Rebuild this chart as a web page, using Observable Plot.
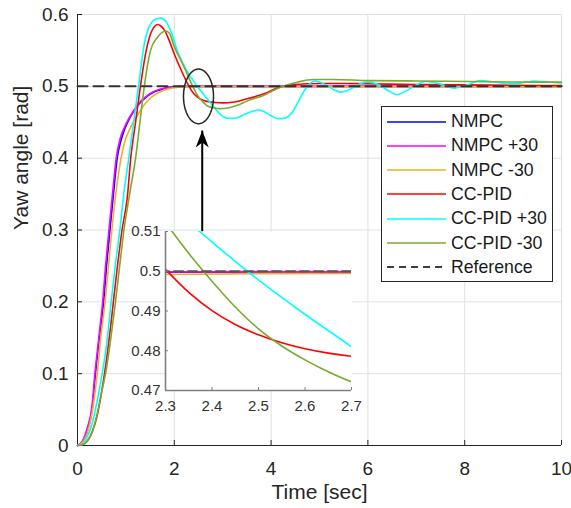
<!DOCTYPE html>
<html><head><meta charset="utf-8">
<script src="https://cdn.jsdelivr.net/npm/d3@7"></script>
<script src="https://cdn.jsdelivr.net/npm/@observablehq/plot@0.6"></script>
<style>
body{margin:0;background:#fff;font-family:"Liberation Sans",Arial,sans-serif;}
#wrap{position:relative;width:571px;height:508px;overflow:hidden;}
#main{position:absolute;left:0;top:0;}
#inset{position:absolute;left:120px;top:229px;}
#legend{position:absolute;left:381px;top:106px;width:172px;height:176px;border:1px solid #262626;background:#fff;box-sizing:border-box;}
.row{position:absolute;left:0;height:24px;display:flex;align-items:center;font-size:17.7px;color:#1a1a1a;}
.row svg{margin-left:5px;margin-right:4px;}
</style></head><body>
<div id="wrap"><div id="main"></div><div id="inset"></div><div id="legend"></div></div>
<script>
// ---- data ----
const xTicks = [0, 2, 4, 6, 8, 10];
const yTicks = [0, 0.1, 0.2, 0.3, 0.4, 0.5, 0.6];
const insetXTicks = [2.3, 2.4, 2.5, 2.6, 2.7];
const insetYTicks = [0.47, 0.48, 0.49, 0.5, 0.51];
const seriesNames = ["NMPC", "NMPC +30", "NMPC -30", "CC-PID", "CC-PID +30", "CC-PID -30"];
const seriesColors = ["#0000ff", "#ff00ff", "#edb120", "#ff0000", "#00ffff", "#77ac30"];
const referenceName = "Reference";

const timeNMPC = [0, 0.1, 0.2, 0.3, 0.37, 0.45, 0.54, 0.6, 0.67, 0.75, 0.82, 0.9, 0.96, 1.05, 1.15, 1.25, 1.4, 1.55, 1.7, 1.85, 2.0, 2.2, 2.5, 3, 10];
const yawNMPC  = [0, 0.005, 0.02, 0.05, 0.1, 0.15, 0.2, 0.25, 0.3, 0.355, 0.4, 0.425, 0.438, 0.452, 0.464, 0.474, 0.484, 0.491, 0.495, 0.498, 0.4993, 0.4997, 0.4998, 0.4998, 0.4998];

const timeNMPCp30 = [0, 0.1, 0.2, 0.3, 0.36, 0.44, 0.52, 0.58, 0.65, 0.73, 0.8, 0.88, 0.95, 1.05, 1.15, 1.25, 1.4, 1.55, 1.7, 1.85, 2.0, 2.2, 2.5, 3, 10];
const yawNMPCp30  = [0, 0.006, 0.024, 0.055, 0.1, 0.15, 0.2, 0.25, 0.3, 0.355, 0.4, 0.427, 0.44, 0.454, 0.465, 0.475, 0.485, 0.492, 0.496, 0.498, 0.4994, 0.4998, 0.4999, 0.4999, 0.4999];

const timeNMPCm30 = [0, 0.1, 0.2, 0.3, 0.4, 0.48, 0.57, 0.64, 0.71, 0.8, 0.9, 0.98, 1.05, 1.15, 1.25, 1.4, 1.55, 1.7, 1.85, 2.0, 2.2, 2.5, 3, 10];
const yawNMPCm30  = [0, 0.004, 0.017, 0.045, 0.095, 0.15, 0.2, 0.25, 0.3, 0.355, 0.4, 0.424, 0.436, 0.45, 0.461, 0.476, 0.486, 0.492, 0.496, 0.498, 0.4991, 0.4994, 0.4995, 0.4995];

const timePID = [0, 0.1, 0.2, 0.3, 0.4, 0.5, 0.6, 0.7, 0.8, 0.92, 1.03, 1.1, 1.2, 1.3, 1.42, 1.52, 1.6, 1.65, 1.72, 1.8, 1.9, 2.0, 2.1, 2.2, 2.3, 2.35, 2.4, 2.45, 2.5, 2.55, 2.6, 2.65, 2.7, 2.85, 3.0, 3.2, 3.5, 3.85, 4.2, 4.5, 5, 5.5, 6, 7, 8, 9, 10];
const yawPID  = [0, 0.001, 0.006, 0.018, 0.04, 0.075, 0.12, 0.175, 0.235, 0.3, 0.346, 0.4, 0.45, 0.5, 0.55, 0.575, 0.584, 0.586, 0.584, 0.578, 0.563, 0.545, 0.529, 0.514, 0.5005, 0.4947, 0.4901, 0.4866, 0.484, 0.482, 0.4805, 0.4794, 0.4786, 0.4775, 0.477, 0.4778, 0.4826, 0.4896, 0.4995, 0.5025, 0.504, 0.504, 0.5035, 0.5025, 0.502, 0.5015, 0.501];

const timePIDp30 = [0, 0.1, 0.2, 0.3, 0.4, 0.51, 0.6, 0.68, 0.78, 0.875, 0.965, 1.06, 1.16, 1.26, 1.38, 1.51, 1.6, 1.72, 1.84, 1.95, 2.07, 2.17, 2.27, 2.373, 2.476, 2.59, 2.7, 2.82, 2.95, 3.1, 3.25, 3.45, 3.6, 3.73, 3.85, 4.0, 4.15, 4.3, 4.45, 4.61, 4.75, 4.9, 5.0, 5.16, 5.3, 5.43, 5.57, 5.71, 5.85, 6.0, 6.2, 6.4, 6.6, 6.8, 7.0, 7.2, 7.45, 7.78, 8.05, 8.33, 8.6, 9.0, 9.2, 9.43, 9.7, 10];
const yawPIDp30  = [0, 0.002, 0.012, 0.03, 0.06, 0.1, 0.14, 0.19, 0.25, 0.3, 0.355, 0.4, 0.45, 0.5, 0.559, 0.587, 0.593, 0.595, 0.589, 0.573, 0.548, 0.533, 0.52, 0.51, 0.5, 0.49, 0.481, 0.471, 0.461, 0.4555, 0.4555, 0.461, 0.465, 0.467, 0.465, 0.459, 0.455, 0.456, 0.465, 0.485, 0.5, 0.5075, 0.506, 0.501, 0.495, 0.492, 0.494, 0.499, 0.504, 0.5058, 0.503, 0.495, 0.4885, 0.494, 0.502, 0.5067, 0.504, 0.4975, 0.502, 0.508, 0.506, 0.5035, 0.505, 0.5075, 0.506, 0.5045];

const timePIDm30 = [0, 0.1, 0.2, 0.31, 0.4, 0.5, 0.58, 0.68, 0.785, 0.88, 0.96, 1.09, 1.2, 1.29, 1.38, 1.51, 1.65, 1.75, 1.82, 1.9, 2.0, 2.1, 2.2, 2.3, 2.35, 2.4, 2.45, 2.5, 2.55, 2.6, 2.65, 2.7, 2.8, 2.95, 3.1, 3.3, 3.5, 3.85, 4.19, 4.54, 4.88, 5.3, 6.0, 7.0, 8.05, 9.0, 10];
const yawPIDm30  = [0, 0.001, 0.006, 0.02, 0.042, 0.075, 0.1, 0.145, 0.2, 0.255, 0.3, 0.355, 0.4, 0.45, 0.5, 0.55, 0.568, 0.575, 0.577, 0.574, 0.555, 0.541, 0.527, 0.5122, 0.5045, 0.4975, 0.491, 0.4855, 0.4812, 0.4777, 0.4747, 0.4722, 0.4702, 0.469, 0.4698, 0.4735, 0.4794, 0.4875, 0.4988, 0.5058, 0.5095, 0.5096, 0.508, 0.5075, 0.5067, 0.506, 0.5058];

const refTime = [0, 10];
const refYaw = [0.5, 0.5];

// annotation (data units): ellipse around the zoomed region, arrow from inset
const ellipseCenter = [2.5, 0.486];
const ellipseRadii = [0.31, 0.038];
const arrowTime = [2.577];
const arrowFrom = [0.298];
const arrowTo = [0.4385];

// ---- build tables ----
const seriesTimes = [timeNMPC, timeNMPCp30, timeNMPCm30, timePID, timePIDp30, timePIDm30];
const seriesYaws = [yawNMPC, yawNMPCp30, yawNMPCm30, yawPID, yawPIDp30, yawPIDm30];
const rows = [];
seriesNames.forEach((name, i) => seriesTimes[i].forEach((t, j) => rows.push({series: name, t, v: seriesYaws[i][j]})));
const refRows = refTime.map((t, i) => ({t, v: refYaw[i]}));
const ellipsePts = d3.range(0, 361, 4).map(a => ({
  t: ellipseCenter[0] + ellipseRadii[0] * Math.cos(a * Math.PI / 180),
  v: ellipseCenter[1] + ellipseRadii[1] * Math.sin(a * Math.PI / 180)
}));
const arrowRows = arrowTime.map((t, i) => ({t, from: arrowFrom[i], to: arrowTo[i]}));
const arrowHead = {draw(ctx) { ctx.moveTo(0, 0); ctx.lineTo(6.5, 17); ctx.lineTo(0, 12); ctx.lineTo(-6.5, 17); ctx.closePath(); }};

const font = "'Liberation Sans', Arial, Helvetica, sans-serif";
const W = 571, H = 508, mL = 77, mR = 10, mT = 14, mB = 63;
const fw = W - mL - mR, fh = H - mT - mB;
const axisColor = "#262626", gridColor = "#e0e0e0";

const main = Plot.plot({
  width: W, height: H, marginLeft: mL, marginRight: mR, marginTop: mT, marginBottom: mB,
  style: {fontFamily: font, fontSize: "19px", color: axisColor, background: "transparent", overflow: "visible"},
  x: {domain: [0, 10]},
  y: {domain: [0, 0.6]},
  color: {domain: seriesNames, range: seriesColors},
  marks: [
    Plot.gridX(xTicks.filter(d => d > 0), {stroke: gridColor, strokeOpacity: 1}),
    Plot.gridY(yTicks.filter(d => d > 0), {stroke: gridColor, strokeOpacity: 1}),
    Plot.ruleX([0], {stroke: axisColor}),
    Plot.ruleY([0], {stroke: axisColor}),
    Plot.tickX(xTicks, {x: d => d, stroke: axisColor, insetTop: fh - 5}),
    Plot.tickY(yTicks, {y: d => d, stroke: axisColor, insetRight: fw - 5}),
    Plot.axisX(xTicks, {tickSize: 0, tickPadding: 16, tickFormat: d => String(d), label: null}),
    Plot.axisY(yTicks, {tickSize: 0, tickPadding: 9, tickFormat: d => String(d), label: null}),
    Plot.text(["Time [sec]"], {frameAnchor: "bottom", dy: 53, fontSize: 21, fill: axisColor}),
    Plot.text(["Yaw angle [rad]"], {frameAnchor: "left", dx: -56, rotate: -90, fontSize: 21, fill: axisColor}),
    Plot.line(rows, {x: "t", y: "v", z: "series", stroke: "series", strokeWidth: 1.6, curve: "monotone-x"}),
    Plot.line(refRows, {x: "t", y: "v", stroke: "#333333", strokeWidth: 2, strokeDasharray: "10,6"}),
    Plot.line(ellipsePts, {x: "t", y: "v", stroke: "#262626", strokeWidth: 1.5}),
    Plot.link(arrowRows, {x1: "t", x2: "t", y1: "from", y2: "to", stroke: "#000", strokeWidth: 2}),
    Plot.dot(arrowRows, {x: "t", y: "to", symbol: arrowHead, fill: "#000", stroke: "none", r: 6})
  ]
});
document.getElementById("main").append(main);

// ---- inset ----
const iL = 45, iR = 25, iT = 2, iB = 25, iW = 186, iH = 159;
const insetColor = "#7f7f7f";
const inset = Plot.plot({
  width: iL + iW + iR, height: iT + iH + iB, marginLeft: iL, marginRight: iR, marginTop: iT, marginBottom: iB,
  style: {fontFamily: font, fontSize: "15px", color: "#333333", background: "transparent", overflow: "visible"},
  x: {domain: [2.3, 2.7]},
  y: {domain: [0.47, 0.51]},
  color: {domain: seriesNames, range: seriesColors},
  marks: [
    Plot.frame({fill: "white", stroke: null}),
    Plot.line(rows, {x: "t", y: "v", z: "series", stroke: "series", strokeWidth: 1.6, curve: "monotone-x", clip: true}),
    Plot.line(refRows, {x: "t", y: "v", stroke: "#555555", strokeWidth: 2, strokeDasharray: "9,5", clip: true}),
    Plot.ruleX([2.3], {stroke: insetColor, strokeWidth: 1.6}),
    Plot.ruleY([0.47], {stroke: insetColor, strokeWidth: 1.6}),
    Plot.tickX(insetXTicks, {x: d => d, stroke: insetColor, insetTop: iH - 3}),
    Plot.tickY(insetYTicks, {y: d => d, stroke: insetColor, insetRight: iW - 3}),
    Plot.axisX(insetXTicks, {tickSize: 0, tickPadding: 10, tickFormat: d => String(d), label: null}),
    Plot.axisY(insetYTicks, {tickSize: 0, tickPadding: 5, tickFormat: d => String(d), label: null})
  ]
});
document.getElementById("inset").append(inset);

// ---- legend ----
const legend = document.getElementById("legend");
const legNames = [...seriesNames, referenceName];
const legColors = [...seriesColors, "#000000"];
legNames.forEach((name, i) => {
  const row = document.createElement("div");
  row.className = "row";
  row.style.top = (2.5 + i * 24.33) + "px";
  const dash = name === referenceName ? ' stroke-dasharray="7,5"' : "";
  row.innerHTML = `<svg width="60" height="4"><line x1="0" y1="2" x2="59" y2="2" stroke="${legColors[i]}" stroke-width="1.6"${dash}/></svg><span>${name}</span>`;
  legend.append(row);
});
</script>
</body></html>
